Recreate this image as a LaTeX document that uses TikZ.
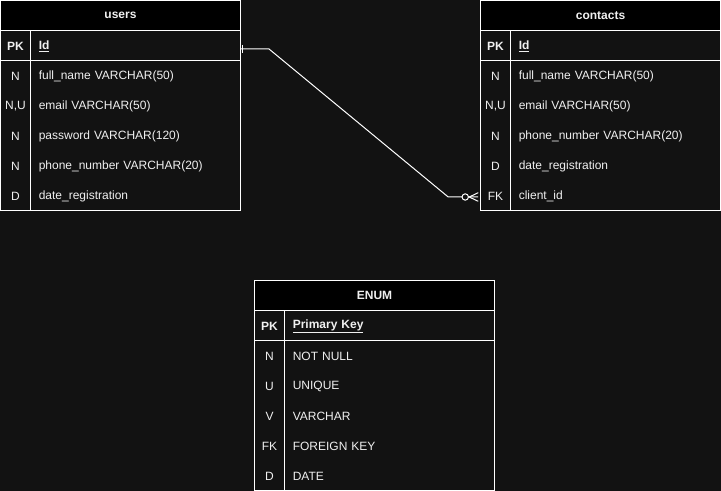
\documentclass[tikz,border=0pt]{standalone}
\usepackage{xcolor}
\usepackage{fontspec}
\setmainfont{Liberation Sans}
\usepackage{tikz}
\usetikzlibrary{calc}

\definecolor{bgdark}{HTML}{121212}
\definecolor{txtlight}{HTML}{F0F0F0}

\tikzset{
	tblhead/.style={draw=white, fill=black, line width=0.75pt, minimum width=180pt, minimum height=22.5pt, inner sep=0pt, text=txtlight, font=\fontsize{9pt}{11pt}\selectfont\bfseries},
	keycell/.style={minimum width=22.5pt, minimum height=22.5pt, inner sep=0pt, text=txtlight, font=\fontsize{9pt}{11pt}\selectfont},
	fieldcell/.style={anchor=west, text width=145.5pt, inner xsep=6pt, inner ysep=0pt, minimum height=22.5pt, align=left, text=txtlight, font=\fontsize{9pt}{11pt}\selectfont},
	pkcell/.style={font=\fontsize{9pt}{11pt}\selectfont\bfseries},
	tblline/.style={draw=white, line width=0.75pt},
	relline/.style={draw=white, line width=0.75pt}
}

\begin{document}
\begin{tikzpicture}[x=0.75pt,y=0.75pt,yscale=-1,xscale=1]
		%Shape: Background
		\fill [bgdark] (0,0) rectangle (721,491);
		\useasboundingbox (0,0) rectangle (721,491);
		
		%Shape: Table users
		\draw [tblline] (0.5,30.5) rectangle (240.5,210.5) ;
		%Straight Lines
		\draw [tblline] (0.5,60.5) -- (240.5,60.5) ;
		%Straight Lines
		\draw [tblline] (30.5,30.5) -- (30.5,210.5) ;
		% Text Node
		\node [tblhead] (usersHead) at (120.5,15.5) {users};
		% Text Node
		\node [keycell, pkcell] (usersK1) at (15.5,46.5) {PK};
		\node [keycell] (usersK2) at (15.5,76.5) {N};
		\node [keycell] (usersK3) at (15.5,106.5) {N,U};
		\node [keycell] (usersK4) at (15.5,136.5) {N};
		\node [keycell] (usersK5) at (15.5,166.5) {N};
		\node [keycell] (usersK6) at (15.5,196.5) {D};
		% Text Node
		\node [fieldcell, pkcell] (usersId) at (30.5,46.5) {\underline{Id}};
		\node [fieldcell] (usersF2) at (30.5,76.5) {full\_name VARCHAR(50)};
		\node [fieldcell] (usersF3) at (30.5,106.5) {email VARCHAR(50)};
		\node [fieldcell] (usersF4) at (30.5,136.5) {password VARCHAR(120)};
		\node [fieldcell] (usersF5) at (30.5,166.5) {phone\_number VARCHAR(20)};
		\node [fieldcell] (usersF6) at (30.5,196.5) {date\_registration};
		
		%Shape: Table contacts
		\draw [tblline] (480.5,30.5) rectangle (720.5,210.5) ;
		%Straight Lines
		\draw [tblline] (480.5,60.5) -- (720.5,60.5) ;
		%Straight Lines
		\draw [tblline] (510.5,30.5) -- (510.5,210.5) ;
		% Text Node
		\node [tblhead] (contactsHead) at (600.5,15.5) {contacts};
		% Text Node
		\node [keycell, pkcell] (contactsK1) at (495.5,46.5) {PK};
		\node [keycell] (contactsK2) at (495.5,76.5) {N};
		\node [keycell] (contactsK3) at (495.5,106.5) {N,U};
		\node [keycell] (contactsK4) at (495.5,136.5) {N};
		\node [keycell] (contactsK5) at (495.5,166.5) {D};
		\node [keycell] (contactsFk) at (495.5,196.5) {FK};
		% Text Node
		\node [fieldcell, pkcell] (contactsF1) at (510.5,46.5) {\underline{Id}};
		\node [fieldcell] (contactsF2) at (510.5,76.5) {full\_name VARCHAR(50)};
		\node [fieldcell] (contactsF3) at (510.5,106.5) {email VARCHAR(50)};
		\node [fieldcell] (contactsF4) at (510.5,136.5) {phone\_number VARCHAR(20)};
		\node [fieldcell] (contactsF5) at (510.5,166.5) {date\_registration};
		\node [fieldcell] (contactsF6) at (510.5,196.5) {client\_id};
		
		%Shape: Table ENUM
		\draw [tblline] (254.5,310.5) rectangle (494.5,490.5) ;
		%Straight Lines
		\draw [tblline] (254.5,340.5) -- (494.5,340.5) ;
		%Straight Lines
		\draw [tblline] (284.5,310.5) -- (284.5,490.5) ;
		% Text Node
		\node [tblhead] (enumHead) at (374.5,295.5) {ENUM};
		% Text Node
		\node [keycell, pkcell] (enumK1) at (269.5,326.5) {PK};
		\node [keycell] (enumK2) at (269.5,356.5) {N};
		\node [keycell] (enumK3) at (269.5,386.5) {U};
		\node [keycell] (enumK4) at (269.5,416.5) {V};
		\node [keycell] (enumK5) at (269.5,446.5) {FK};
		\node [keycell] (enumK6) at (269.5,476.5) {D};
		% Text Node
		\node [fieldcell, pkcell] (enumF1) at (284.5,326.5) {\underline{Primary Key}};
		\node [fieldcell] (enumF2) at (284.5,356.5) {NOT NULL};
		\node [fieldcell] (enumF3) at (284.5,386.5) {UNIQUE};
		\node [fieldcell] (enumF4) at (284.5,416.5) {VARCHAR};
		\node [fieldcell] (enumF5) at (284.5,446.5) {FOREIGN KEY};
		\node [fieldcell] (enumF6) at (284.5,476.5) {DATE};
		
		%Connector: users one -- contacts zero or many
		\coordinate (relStart) at ($(usersId.east)+(0,2.5)$);
		\coordinate (relEnd) at ($(contactsFk.west)+(-2,0.5)$);
		\draw [relline] (relStart) -- ++(28,0) -- ($(relEnd)+(-30,0)$) -- (relEnd) ;
		%Straight Lines: one
		\draw [relline] ($(relStart)+(1.5,-4)$) -- ++(0,8) ;
		%Shape: Circle zero
		\draw [relline, fill=bgdark] ($(relEnd)+(-13,0)$) circle [radius=2.4pt] ;
		%Straight Lines: many
		\draw [relline] ($(relEnd)+(-9,0)$) -- ($(relEnd)+(0,-4.3)$) ;
		\draw [relline] ($(relEnd)+(-9,0)$) -- ($(relEnd)+(0,4.3)$) ;
		
	\end{tikzpicture}
\end{document}
